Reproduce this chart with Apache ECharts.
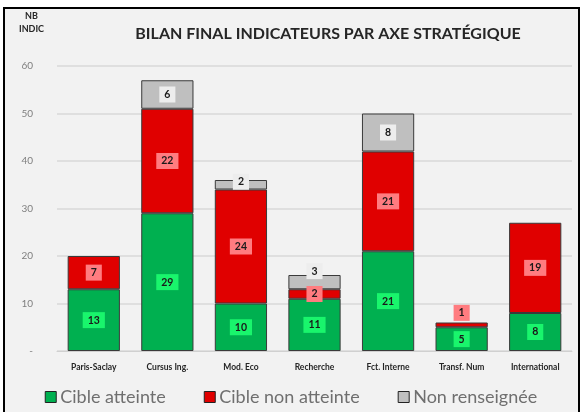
<!DOCTYPE html>
<html><head><meta charset="utf-8">
<script src="https://cdn.jsdelivr.net/npm/echarts@6/dist/echarts.min.js"></script>
<style>html,body{margin:0;padding:0;background:#fff}#c{width:582px;height:412px}</style>
</head><body><div id="c"></div>
<script>
const categories = ["Paris-Saclay", "Cursus Ing.", "Mod. Eco", "Recherche", "Fct. Interne", "Transf. Num", "International"];
const cibleAtteinte = [13, 29, 10, 11, 21, 5, 8];
const cibleNonAtteinte = [7, 22, 24, 2, 21, 1, 19];
const nonRenseignee = [0, 6, 2, 3, 8, 0, 0];
const yTicks = [0, 10, 20, 30, 40, 50, 60];

const FONT = 'Lato, "Open Sans", sans-serif';
const labelOffsets = { 'red': { 5: [0, -12] }, 'gray': { 3: [0, -11], 2: [0, -3] } };

function mk(name, vals, color, lblBg, key) {
  return {
    name, type: 'bar', stack: 'a', barWidth: '71%',
    itemStyle: { color, borderColor: '#3a3a3a', borderWidth: 1 },
    data: vals.map((v, i) => {
      const d = { value: v === 0 ? null : v };
      const off = labelOffsets[key] && labelOffsets[key][i];
      if (off) d.label = { offset: off };
      return d;
    }),
    label: {
      show: true, position: 'inside', color: '#1a1a1a', fontFamily: FONT,
      fontWeight: 'bold', fontSize: 10.5, backgroundColor: lblBg, padding: [3, 5, 2, 5]
    }
  };
}

const chart = echarts.init(document.getElementById('c'));
chart.setOption({
  backgroundColor: '#fff',
  animation: false,
  graphic: [
    { type: 'rect', z: -10, shape: { x: 4, y: 8, width: 575, height: 412 },
      style: { fill: '#f2f2f2', stroke: '#000', lineWidth: 2 } },
    { type: 'text', left: 25, top: 12, style: { text: 'NB', font: 'bold 9px ' + FONT, fill: '#262626' } },
    { type: 'text', left: 19, top: 25, style: { text: 'INDIC', font: 'bold 9px ' + FONT, fill: '#262626' } }
  ],
  title: {
    text: 'BILAN FINAL INDICATEURS PAR AXE STRATÉGIQUE', left: 323, top: 21, textAlign: 'center',
    textStyle: { fontFamily: FONT, fontWeight: 'bold', fontSize: 16, color: '#262626' }
  },
  grid: { left: 57, right: 10, top: 66, bottom: 61 },
  xAxis: {
    type: 'category', data: categories,
    axisLine: { lineStyle: { color: '#d0d0d0', width: 1 } }, axisTick: { show: false },
    axisLabel: { color: '#262626', fontFamily: FONT, fontWeight: 'bold', fontSize: 8.5, margin: 12, interval: 0 }
  },
  yAxis: {
    type: 'value', min: 0, max: 60, interval: 10,
    axisLine: { show: false }, axisTick: { show: false },
    splitLine: { lineStyle: { color: '#d9d9d9', width: 1.5 } },
    axisLabel: { color: '#7f7f7f', fontFamily: FONT, fontSize: 10, margin: 24,
      formatter: v => (yTicks.includes(v) ? (v === 0 ? '-' : String(v)) : '') }
  },
  legend: {
    bottom: 1, left: 'center', itemWidth: 11, itemHeight: 11, itemGap: 38,
    textStyle: { color: '#6f6f6f', fontFamily: FONT, fontSize: 18, padding: [0, 0, 0, -1] },
    data: ['Cible atteinte', 'Cible non atteinte', 'Non renseignée'].map(n => ({ name: n, icon: 'rect', itemStyle: { borderColor: '#222', borderWidth: 1 } }))
  },
  series: [
    mk('Cible atteinte', cibleAtteinte, '#00b050', '#19f56c', 'green'),
    mk('Cible non atteinte', cibleNonAtteinte, '#e00000', '#ff7c80', 'red'),
    mk('Non renseignée', nonRenseignee, '#bfbfbf', '#ededed', 'gray')
  ]
});
</script></body></html>
